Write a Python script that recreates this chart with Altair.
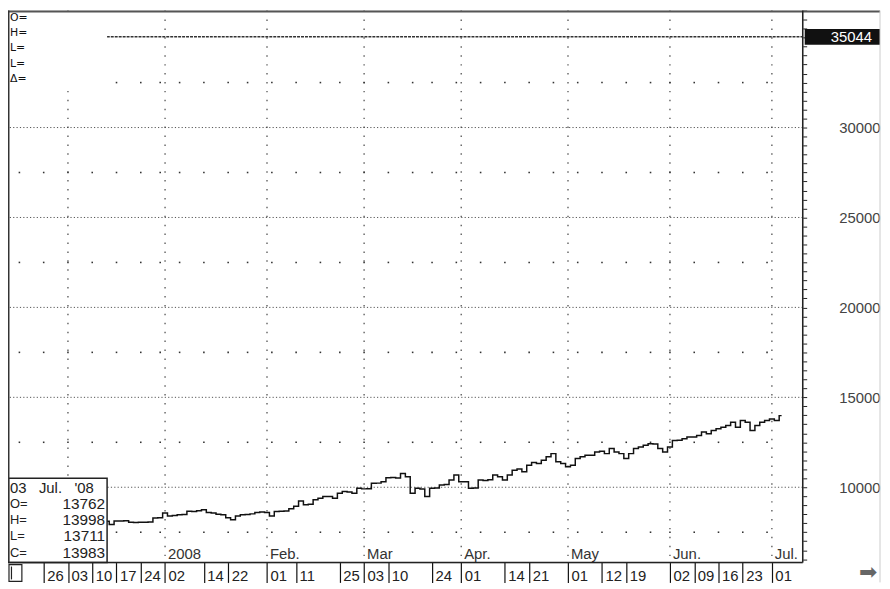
import altair as alt
import pandas as pd

# ---- data (x = trading-day index, 0 = Mon 26 Nov 2007) ----
first_day = 13
closes = [
    8110, 7923, 8130, 8120, 8140, 8060, 8040, 8060, 8050, 8070,
    8290, 8300, 8570, 8400, 8430, 8470, 8480, 8660, 8650, 8700,
    8750, 8600, 8570, 8500, 8470, 8300, 8200, 8400, 8470, 8480,
    8520, 8600, 8620, 8590, 8400, 8650, 8660, 8680, 8800, 8950,
    9230, 9025, 9050, 9300, 9390, 9490, 9480, 9390, 9670, 9760,
    9740, 9670, 9945, 9910, 9920, 10220, 10230, 10310, 10530, 10540,
    10520, 10770, 10590, 9670, 9945, 9900, 9490, 9945, 9960, 10130,
    10150, 10400, 10680, 10310, 10300, 9945, 9960, 10400, 10380, 10420,
    10680, 10590, 10400, 10680, 10950, 11010, 10865, 11230, 11380, 11320,
    11500, 11690, 11870, 11415, 11320, 11140, 11230, 11600, 11690, 11780,
    11780, 11965, 12000, 11870, 12150, 11965, 11870, 11600, 11870, 12150,
    12240, 12330, 12420, 12400, 12150, 11965, 12240, 12600, 12620, 12700,
    12790, 12800, 12880, 13070, 12975, 13160, 13250, 13340, 13430, 13620,
    13340, 13710, 13620, 13160, 13430, 13620, 13710, 13800, 13710, 13983,
]
days = list(range(first_day, first_day + len(closes)))

week_ticks = [0, 5, 10, 15, 20, 25, 33, 38, 46, 52, 61, 66, 71, 80, 86, 95,
              100, 108, 115, 120, 129, 134, 139, 144, 150]
week_labels = ["26", "03", "10", "17", "24", "02", "14", "22", "01", "11", "25",
               "03", "10", "24", "01", "14", "21", "01", "12", "19", "02", "09",
               "16", "23", "01"]
week_starts = [-5, 0, 5, 10, 15, 20, 24, 28, 33, 38, 42, 47, 52, 57, 61, 66, 71,
               76, 80, 85, 90, 95, 100, 105, 110, 115, 120, 125, 129, 134, 139,
               144, 149]
month_lines = [5, 25, 46, 66, 86, 108, 129, 150]
month_days = [25, 46, 66, 86, 108, 129, 150]
month_labels = ["2008", "Feb.", "Mar", "Apr.", "May", "Jun.", "Jul."]
major_levels = [10000, 15000, 20000, 25000, 30000]
minor_levels = [7500, 12500, 17500, 22500, 27500, 32500]
max_level = 35044
axis_ticks = list(range(6000, 36501, 500))
ohlc_names = ["O=", "H=", "L=", "C="]
ohlc_values = [13762, 13998, 13711, 13983]
NB = "\u00a0"
last_date = f"03{NB*3}Jul.{NB*3}'08"
top_names = ["O=", "H=", "L=", "L=", "Δ="]

X_DOMAIN = [-7.35, 156.35]
Y_DOMAIN = [5813, 36501]
W, H = 802, 557
FONT = "Liberation Sans"

# ---- shared encodings ----
lab = "''"
for t, l in zip(week_ticks, week_labels):
    lab = f"datum.value == {t} ? '{l}' : ({lab})"

xaxis = alt.Axis(values=week_ticks, labelExpr=lab, orient="bottom", tickSize=20,
                 tickColor="#111", tickWidth=1.2, labelAlign="left",
                 labelBaseline="top", labelPadding=-14, labelOffset=3,
                 labelFontSize=15, labelColor="#222", labelFont=FONT,
                 domain=False, grid=False, labelOverlap=False, labelFlush=False,
                 labelBound=False, title=None)
yaxis = alt.Axis(values=axis_ticks, orient="right",
                 labelExpr=f"indexof({major_levels}, datum.value) >= 0 ? format(datum.value, 'd') : ''",
                 tickSize=4, tickColor="#222", tickWidth=1, grid=False, domain=False,
                 labelFontSize=15, labelColor="#444", labelFont=FONT,
                 labelAlign="right", labelPadding=74, labelBaseline="middle",
                 labelOverlap=False, labelBound=False, title=None)


def X():
    return alt.X("i:Q", scale=alt.Scale(domain=X_DOMAIN, nice=False, zero=False), axis=xaxis)


def Y():
    return alt.Y("v:Q", scale=alt.Scale(domain=Y_DOMAIN, nice=False, zero=False), axis=yaxis)


series = pd.DataFrame({"i": days, "v": closes})
majors = pd.DataFrame({"v": major_levels})
mlines = pd.DataFrame({"i": month_lines})
months = pd.DataFrame({"i": month_days, "t": month_labels})
dots = pd.DataFrame([{"i": w, "v": lv} for lv in minor_levels for w in week_starts])
maxdf = pd.DataFrame({"i": [first_day], "v": [max_level], "t": [str(max_level)]})
one = pd.DataFrame({"a": [0]})

layers = []

# grid
layers.append(alt.Chart(majors).mark_rule(color="#555", strokeWidth=1, strokeDash=[1.2, 2.2])
              .encode(y=Y()))
layers.append(alt.Chart(mlines).mark_rule(color="#444", strokeWidth=1.2, strokeDash=[1.5, 7.5])
              .encode(x=X()))
layers.append(alt.Chart(dots).mark_square(size=2.5, color="#333", opacity=1)
              .encode(x=X(), y=Y()))
layers.append(alt.Chart(months).mark_text(align="left", dx=3, baseline="alphabetic",
                                          fontSize=15, color="#333", font=FONT)
              .encode(x=X(), y=alt.value(553), text="t:N"))

# max line
layers.append(alt.Chart(maxdf).mark_rule(color="#333", strokeWidth=1.6, strokeDash=[3, 1])
              .encode(x=X(), x2=alt.value(W), y=Y()))

# price series
layers.append(alt.Chart(series).mark_line(interpolate="step", color="#111", strokeWidth=1.5)
              .encode(x=X(), y=Y()))

# top-left block
layers.append(alt.Chart(one).mark_rect(color="white")
              .encode(x=alt.value(1), x2=alt.value(100), y=alt.value(1), y2=alt.value(77)))
for k, name in enumerate(top_names):
    layers.append(alt.Chart(one).mark_text(align="left", baseline="middle", fontSize=11,
                                           color="#111", font="DejaVu Sans")
                  .encode(x=alt.value(2), y=alt.value(7 + 15.5 * k), text=alt.value(name)))

# bottom-left info box
layers.append(alt.Chart(one).mark_rect(fill="white", stroke="#222", strokeWidth=1.5)
              .encode(x=alt.value(0.5), x2=alt.value(100), y=alt.value(472), y2=alt.value(557)))
layers.append(alt.Chart(one).mark_text(align="left", baseline="middle", fontSize=15,
                                       color="#222", font=FONT)
              .encode(x=alt.value(2), y=alt.value(482), text=alt.value(last_date)))
for k, (n, val) in enumerate(zip(ohlc_names, ohlc_values)):
    yy = 498 + 16.3 * k
    layers.append(alt.Chart(one).mark_text(align="left", baseline="middle", fontSize=13,
                                           color="#222", font=FONT)
                  .encode(x=alt.value(2), y=alt.value(yy), text=alt.value(n)))
    layers.append(alt.Chart(one).mark_text(align="right", baseline="middle", fontSize=15.5,
                                           color="#222", font=FONT)
                  .encode(x=alt.value(98), y=alt.value(yy), text=alt.value(str(val))))

# max label highlight on the right axis (thick rule = black label box)
layers.append(alt.Chart(maxdf).mark_rule(color="#111", strokeWidth=16, strokeCap="butt")
              .encode(x=alt.value(804), x2=alt.value(880), y=Y()))
layers.append(alt.Chart(maxdf).mark_text(align="right", baseline="middle", fontSize=15,
                                         color="white", font=FONT)
              .encode(x=alt.value(872), y=Y(), text="t:N"))

# frame
layers.append(alt.Chart(one).mark_rule(color="#555", strokeWidth=2)
              .encode(x=alt.value(0), x2=alt.value(880), y=alt.value(1)))
layers.append(alt.Chart(one).mark_rule(color="#333", strokeWidth=1.5)
              .encode(x=alt.value(0.75), y=alt.value(0), y2=alt.value(H)))
layers.append(alt.Chart(one).mark_rule(color="#222", strokeWidth=1.5)
              .encode(x=alt.value(W), y=alt.value(0), y2=alt.value(H)))
layers.append(alt.Chart(one).mark_rule(color="#222", strokeWidth=1.5)
              .encode(x=alt.value(0), x2=alt.value(W), y=alt.value(H)))
layers.append(alt.Chart(one).mark_rule(color="#ccc", strokeWidth=1)
              .encode(x=alt.value(880), y=alt.value(0), y2=alt.value(577)))
layers.append(alt.Chart(one).mark_rect(fill="white", stroke="#222", strokeWidth=1.2)
              .encode(x=alt.value(1), x2=alt.value(14), y=alt.value(559), y2=alt.value(576)))
layers.append(alt.Chart(one).mark_rule(color="#222", strokeWidth=1.2)
              .encode(x=alt.value(3.5), y=alt.value(561), y2=alt.value(574)))
layers.append(alt.Chart(one).mark_text(align="center", baseline="middle", fontSize=22,
                                       color="#666", font="DejaVu Sans")
              .encode(x=alt.value(868), y=alt.value(567), text=alt.value("➡")))

chart = alt.layer(*layers).properties(
    width=W, height=H,
    padding={"left": 0, "top": 0, "right": 80, "bottom": 20},
    autosize="none",
).configure_view(stroke="#222", strokeWidth=1.5).configure(background="white")

chart.save("out.html", embed_options={"renderer": "svg", "actions": False})
